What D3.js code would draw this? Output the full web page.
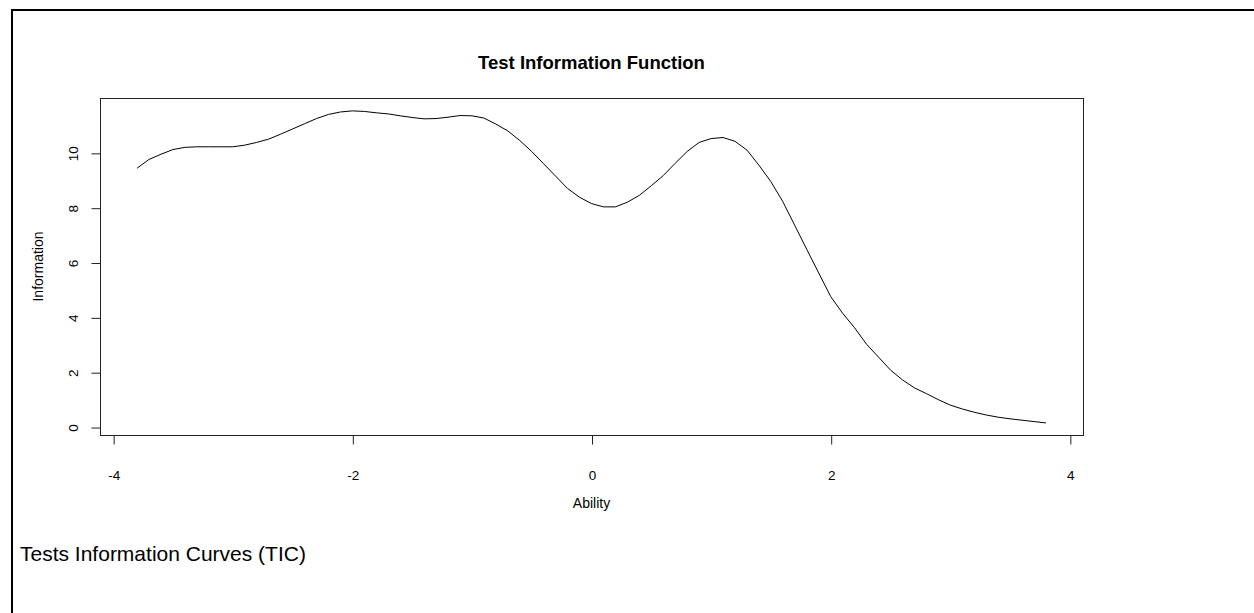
<!DOCTYPE html>
<html>
<head>
<meta charset="utf-8">
<script src="https://cdn.jsdelivr.net/npm/d3@7"></script>
<style>
  html, body { margin: 0; padding: 0; background: #fff; }
  svg { display: block; font-family: "Liberation Sans", Arial, sans-serif; }
</style>
</head>
<body>
<svg id="chart" width="1254" height="613"></svg>
<script>
// Data
const ability = [-3.8,-3.7,-3.6,-3.5,-3.4,-3.3,-3.2,-3.1,-3.0,-2.9,-2.8,-2.7,-2.6,-2.5,-2.4,-2.3,-2.2,-2.1,-2.0,-1.9,-1.8,-1.7,-1.6,-1.5,-1.4,-1.3,-1.2,-1.1,-1.0,-0.9,-0.8,-0.7,-0.6,-0.5,-0.4,-0.3,-0.2,-0.1,0.0,0.1,0.2,0.3,0.4,0.5,0.6,0.7,0.8,0.9,1.0,1.1,1.2,1.3,1.4,1.5,1.6,1.7,1.8,1.9,2.0,2.1,2.2,2.3,2.4,2.5,2.6,2.7,2.8,2.9,3.0,3.1,3.2,3.3,3.4,3.5,3.6,3.7,3.8];
const information = [9.44,9.76,9.95,10.12,10.20,10.22,10.22,10.22,10.22,10.28,10.38,10.50,10.68,10.87,11.06,11.25,11.40,11.49,11.53,11.51,11.46,11.42,11.35,11.29,11.24,11.25,11.30,11.36,11.35,11.27,11.05,10.80,10.45,10.05,9.60,9.15,8.70,8.38,8.15,8.03,8.03,8.20,8.45,8.80,9.17,9.62,10.05,10.38,10.52,10.56,10.42,10.10,9.55,8.95,8.22,7.35,6.48,5.62,4.76,4.15,3.62,3.02,2.55,2.08,1.72,1.43,1.22,1.00,0.80,0.66,0.54,0.44,0.36,0.30,0.25,0.20,0.15];
const xTicks = [-4, -2, 0, 2, 4];
const yTicks = [0, 2, 4, 6, 8, 10];
const titleText = "Test Information Function";
const xLabel = "Ability";
const yLabel = "Information";
const captionText = "Tests Information Curves (TIC)";

const FONT = "Liberation Sans, Arial, sans-serif";
const svg = d3.select("#chart");

// outer frame (top and left edges visible)
svg.append("line").attr("x1", 12).attr("y1", 10).attr("x2", 1254).attr("y2", 10)
  .attr("stroke", "#000").attr("stroke-width", 2);
svg.append("line").attr("x1", 12).attr("y1", 9).attr("x2", 12).attr("y2", 613)
  .attr("stroke", "#000").attr("stroke-width", 2);

const plot = { left: 100, right: 1083, top: 98, bottom: 435 };

const x = d3.scaleLinear().domain([-4.11, 4.11]).range([plot.left, plot.right]);
const y = d3.scaleLinear().domain([-0.29, 12.0]).range([plot.bottom, plot.top]);

// plot box
svg.append("rect")
  .attr("x", plot.left + 0.5).attr("y", plot.top + 0.5)
  .attr("width", plot.right - plot.left).attr("height", plot.bottom - plot.top)
  .attr("fill", "none").attr("stroke", "#222").attr("stroke-width", 1);

const fmt = d => String(d);

// x axis
const xAxis = svg.append("g")
  .attr("transform", `translate(0.5,${plot.bottom + 0.5})`)
  .call(d3.axisBottom(x).tickValues(xTicks).tickSize(9).tickFormat(fmt));
xAxis.select(".domain").remove();
xAxis.selectAll("line").attr("stroke", "#222");
xAxis.selectAll("text")
  .attr("font-size", 13.5).attr("font-family", FONT).attr("fill", "#000")
  .attr("y", 40).attr("dy", "0.35em");

// y axis
const yAxis = svg.append("g")
  .attr("transform", `translate(${plot.left + 0.5},0.5)`)
  .call(d3.axisLeft(y).tickValues(yTicks).tickSize(9).tickFormat(fmt));
yAxis.select(".domain").remove();
yAxis.selectAll("line").attr("stroke", "#222");
yAxis.selectAll("text")
  .attr("font-size", 13.5).attr("font-family", FONT).attr("fill", "#000")
  .attr("x", null).attr("dy", "0.35em")
  .attr("text-anchor", "middle")
  .attr("transform", "translate(-27,0) rotate(-90)");

// curve
const line = d3.line().x((d, i) => x(ability[i])).y(d => y(d));
svg.append("path")
  .datum(information)
  .attr("d", line)
  .attr("fill", "none").attr("stroke", "#000").attr("stroke-width", 1);

// title
svg.append("text").attr("x", (plot.left + plot.right) / 2).attr("y", 69)
  .attr("text-anchor", "middle").attr("font-size", 18.5).attr("font-weight", "bold")
  .text(titleText);

// axis labels
svg.append("text").attr("x", (plot.left + plot.right) / 2).attr("y", 508)
  .attr("text-anchor", "middle").attr("font-size", 14).text(xLabel);
svg.append("text")
  .attr("transform", `translate(43,${(plot.top + plot.bottom) / 2}) rotate(-90)`)
  .attr("text-anchor", "middle").attr("font-size", 14).text(yLabel);

// caption
svg.append("text").attr("x", 20).attr("y", 561)
  .attr("font-size", 21).text(captionText);
</script>
</body>
</html>
